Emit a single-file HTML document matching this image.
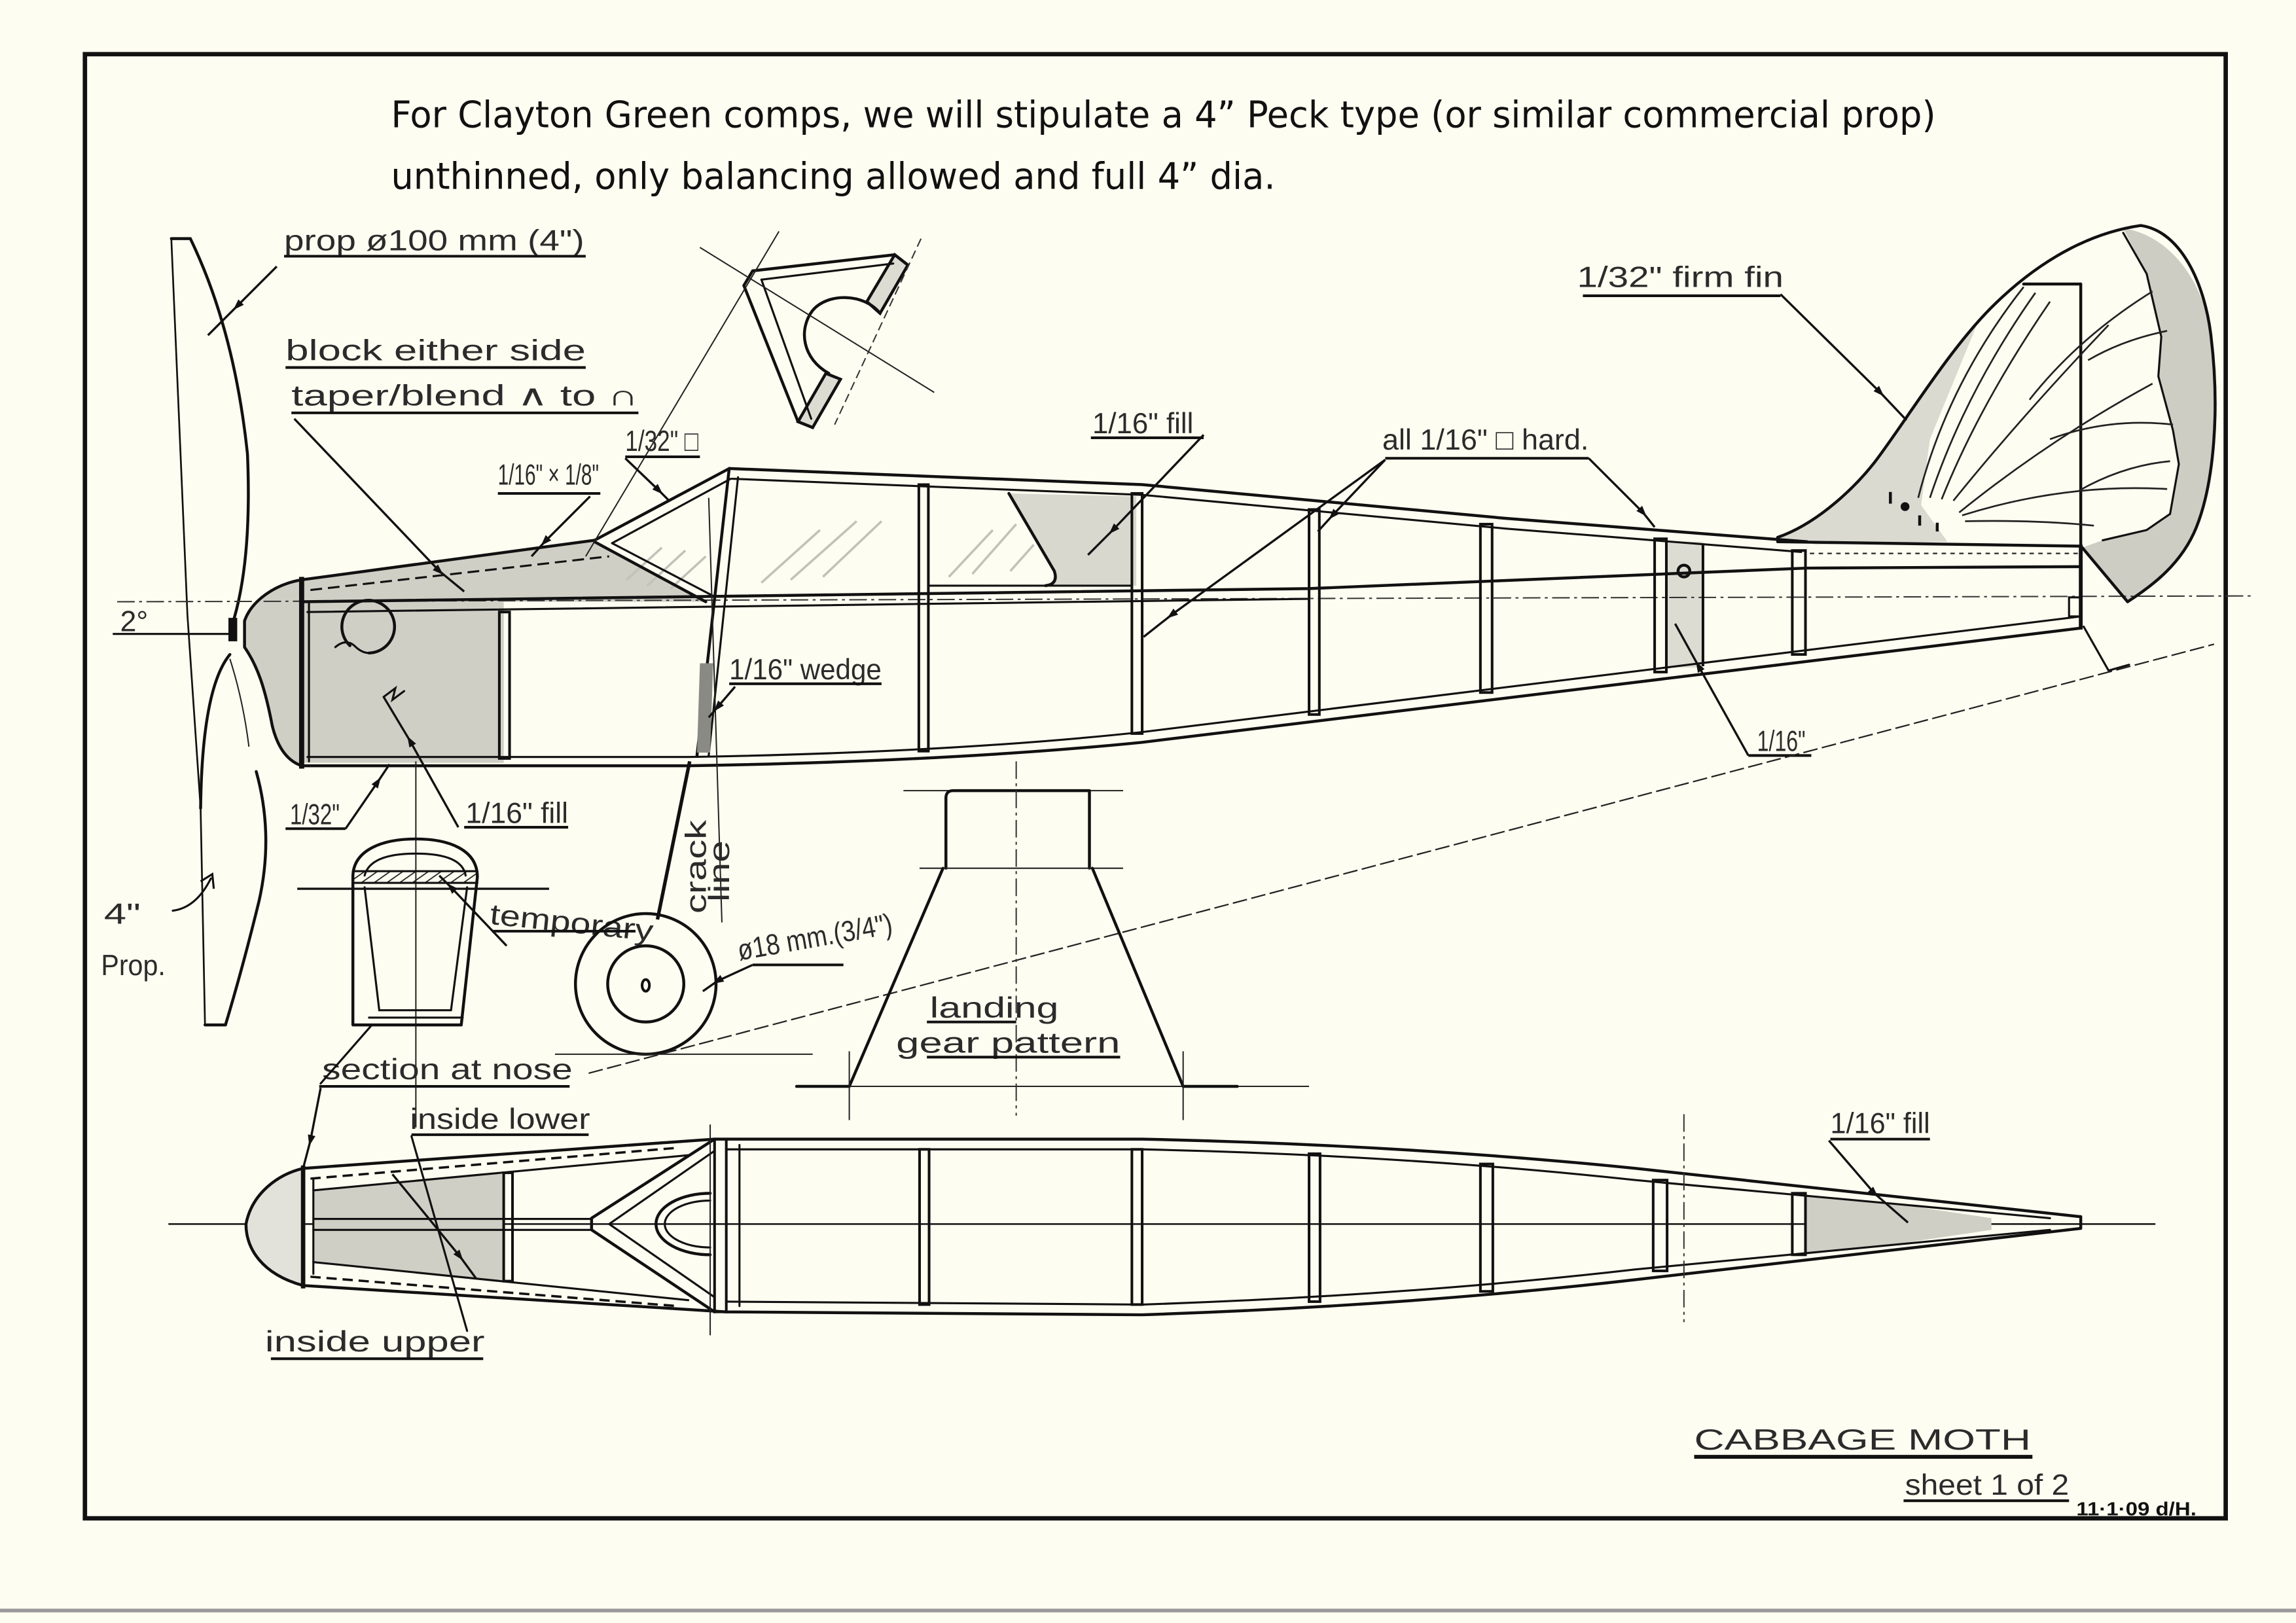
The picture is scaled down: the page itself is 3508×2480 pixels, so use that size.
<!DOCTYPE html>
<html><head><meta charset="utf-8"><title>Cabbage Moth - sheet 1 of 2</title>
<style>
html,body{margin:0;padding:0;background:#fdfdf1;width:3508px;height:2480px;overflow:hidden}
svg{display:block}
</style></head><body>
<svg xmlns="http://www.w3.org/2000/svg" width="3508" height="2480" viewBox="0 0 1568 1108.5" preserveAspectRatio="none">
<defs>
<style>
.k{fill:none;stroke:#111;stroke-width:2;stroke-linejoin:round;stroke-linecap:round}
.m{fill:none;stroke:#111;stroke-width:1.4;stroke-linecap:round}
.t{fill:none;stroke:#222;stroke-width:0.9}
.d{fill:none;stroke:#333;stroke-width:0.9;stroke-dasharray:12 3 2 3}
.g{fill:#cfcfc6;stroke:none}
.h{font-family:"Liberation Sans","DejaVu Sans",sans-serif;fill:#2b2b2b;font-size:20px}
.u{stroke:#111;stroke-width:1.8;fill:none}
.l{fill:none;stroke:#111;stroke-width:1.5;marker-mid:url(#a)}
.p{fill:none;stroke:#111;stroke-width:1.8}
</style>
<marker id="a" viewBox="0 0 10 10" refX="5" refY="5" markerWidth="5" markerHeight="5" orient="auto"><path d="M0,1.5 L10,5 L0,8.5 Z" fill="#111"/></marker>
<pattern id="hat" width="5" height="5" patternUnits="userSpaceOnUse" patternTransform="rotate(55)"><line x1="0" y1="0" x2="0" y2="5" stroke="#222" stroke-width="1.6"/></pattern>
</defs>
<rect width="1568" height="1108.5" fill="#fdfdf1"/>

<!-- border & scan line -->
<rect x="58" y="37" width="1462" height="1000" fill="none" stroke="#111" stroke-width="3"/>
<line x1="0" y1="1100" x2="1568" y2="1100" stroke="#9a9a9a" stroke-width="2.5"/>

<!-- top typed text -->
<text x="267" y="87" font-family="DejaVu Sans Condensed, DejaVu Sans, Liberation Sans, sans-serif" font-size="25" fill="#111" textLength="1055" lengthAdjust="spacingAndGlyphs">For Clayton Green comps, we will stipulate a 4” Peck type (or similar commercial prop)</text>
<text x="267" y="129" font-family="DejaVu Sans Condensed, DejaVu Sans, Liberation Sans, sans-serif" font-size="25" fill="#111" textLength="604" lengthAdjust="spacingAndGlyphs">unthinned, only balancing allowed and full 4” dia.</text>

<!-- ===== SHADED FILLS ===== -->
<path class="g" d="M206,396 L406,369 L482,411 L206,411 Z"/>
<path class="g" d="M206,396 C188,399 172,410 167,424 L167,442 C176,455 181,470 186,496 C190,512 197,520 206,523 Z"/>
<rect class="g" x="206" y="411" width="138" height="110"/>
<path d="M689,337 L776,339 L776,400 L716,400 Q722,394 718,388 Z" fill="#d8d8cf"/>
<rect x="1138" y="370" width="25" height="86" fill="#dcdcd3"/>
<path fill="#cdcdc4" d="M1450,156 C1480,160 1505,190 1510,230 C1516,280 1512,330 1500,360 C1490,385 1470,400 1453,411 L1422,374 L1436,369 L1466,362 L1482,351 L1488,317 L1484,294 L1474,257 L1476,230 L1466,187 Z"/>
<path fill="#dadad1" d="M1214,367 C1240,358 1265,335 1280,316 C1300,290 1330,240 1350,222 L1318,300 L1312,345 L1330,370 L1240,372 Z"/>
<!-- windscreen hatching -->
<g stroke="#c2c2b9" stroke-width="1.6" fill="none">
<line x1="428" y1="396" x2="452" y2="374"/><line x1="442" y1="400" x2="468" y2="376"/><line x1="458" y1="402" x2="482" y2="380"/>
<line x1="520" y1="398" x2="560" y2="362"/><line x1="540" y1="396" x2="585" y2="356"/><line x1="562" y1="394" x2="602" y2="356"/>
<line x1="648" y1="394" x2="678" y2="362"/><line x1="664" y1="392" x2="694" y2="358"/><line x1="690" y1="390" x2="706" y2="372"/>
</g>

<!-- ===== PROP ===== -->
<path class="k" d="M117,163 L130,163"/>
<path fill="none" stroke="#111" stroke-width="1.2" d="M117,163 L128,420 L137,552 L140,700"/>
<path class="k" d="M130,163 Q160,225 169,310 Q172,380 160,422"/>
<path class="k" d="M157,447 Q138,470 137,552"/>
<path class="t" d="M157,450 Q166,478 170,510"/>
<path class="k" d="M175,527 Q187,570 177,615 Q166,660 154,700 L140,700"/>
<rect x="156" y="422" width="6" height="16" fill="#111"/>
<polyline class="l" points="189,182 162,209 142,229"/>
<text class="h" x="194" y="171" textLength="205" lengthAdjust="spacingAndGlyphs">prop ø100 mm (4")</text>
<line class="u" x1="194" y1="175" x2="400" y2="175"/>
<!-- 4" prop -->
<text class="h" x="71" y="631" font-size="21" textLength="25" lengthAdjust="spacingAndGlyphs">4"</text>
<text class="h" x="69" y="666" font-size="21" textLength="44" lengthAdjust="spacingAndGlyphs">Prop.</text>
<path class="m" d="M118,622 Q134,620 144,600"/>
<path d="M137,602 L145,597 L146,607" fill="none" stroke="#111" stroke-width="1.4"/>

<!-- datum / thrust -->
<line class="d" x1="80" y1="411" x2="1540" y2="407"/>
<line x1="77" y1="433" x2="160" y2="433" stroke="#111" stroke-width="1.4"/>
<text class="h" x="82" y="431" font-size="17">2°</text>

<!-- ===== SIDE VIEW FUSELAGE ===== -->
<path class="k" d="M206,396 C188,399 172,410 167,424 L167,442 C176,455 181,470 186,496 C190,512 197,520 206,523"/>
<line x1="206" y1="394" x2="206" y2="525" stroke="#111" stroke-width="3.5"/>
<line class="m" x1="211" y1="411" x2="211" y2="520"/>
<path class="k" d="M206,396 L406,369 L498,320"/>
<line class="m" x1="418" y1="371" x2="499" y2="327"/>
<line class="k" x1="406" y1="370" x2="482" y2="411"/>
<line class="m" x1="418" y1="371" x2="487" y2="407"/>
<line x1="212" y1="403" x2="416" y2="380" stroke="#111" stroke-width="1.4" stroke-dasharray="8 4"/>
<path class="k" d="M239,441 A18,18 0 1 1 252,446"/>
<path class="m" d="M229,442 Q236,436 242,441 Q247,446 252,446"/>
<path class="k" d="M498,320 L780,331 L1028,354 L1234,370"/>
<path class="m" d="M500,327 L780,338 L1028,361 L1230,377"/>
<path class="k" d="M206,411 L894,402 L1234,388 L1421,387"/>
<path class="m" d="M210,418 L894,409"/>
<path class="k" d="M206,523 L470,523 Q650,520 780,507 L1421,429"/>
<path class="m" d="M210,517 L470,517 Q650,514 780,500 L1421,421"/>
<line class="k" x1="1214" y1="370" x2="1421" y2="373"/>
<line x1="1236" y1="378" x2="1420" y2="378" stroke="#333" stroke-width="1.1" stroke-dasharray="3 3"/>
<line x1="1421" y1="372" x2="1421" y2="430" stroke="#111" stroke-width="2.6"/>
<rect class="m" x="1413" y="408" width="8" height="13"/>
<path class="m" d="M1423,428 L1440,458 L1454,454"/>
<line class="k" x1="498" y1="320" x2="476" y2="516"/>
<line class="m" x1="504" y1="326" x2="484" y2="516"/>
<path d="M478,453 L487,453 L485,514 L476,514 Z" fill="#8a8a84"/>
<line x1="471" y1="520" x2="449" y2="628" stroke="#111" stroke-width="2.4"/>
<line class="t" x1="484" y1="340" x2="493" y2="630"/>
<rect class="p" x="341" y="418" width="7" height="100"/>
<rect class="p" x="627.5" y="331" width="6.5" height="182"/>
<rect class="p" x="773" y="337" width="7" height="164"/>
<rect class="p" x="894" y="348" width="7" height="140"/>
<rect class="p" x="1011" y="358" width="8" height="115"/>
<rect class="p" x="1130" y="368" width="8" height="91"/>
<line class="p" x1="1163" y1="371" x2="1163" y2="455"/>
<circle cx="1150" cy="390" r="4" fill="none" stroke="#111" stroke-width="2"/>
<rect class="p" x="1224" y="376" width="9" height="71"/>
<path class="k" d="M689,337 L720,390 Q723,399 714,400"/>
<line class="m" x1="634" y1="400" x2="773" y2="400"/>

<!-- ===== FIN ===== -->
<path class="k" d="M1214,367 C1240,358 1265,335 1280,316 C1300,290 1330,240 1360,210 C1385,185 1420,160 1462,154 C1490,158 1506,195 1510,230 C1516,280 1512,330 1500,360 C1490,385 1470,400 1453,411 L1422,374"/>
<line class="k" x1="1421" y1="194" x2="1421" y2="374"/>
<line class="k" x1="1382" y1="194" x2="1421" y2="194"/>
<path class="m" d="M1450,159 L1466,187 L1476,230 L1474,257 L1484,294 L1488,317 L1482,351 L1466,362 L1436,369"/>
<g fill="none" stroke="#222" stroke-width="1.2">
<path d="M1310,340 Q1330,262 1382,196"/>
<path d="M1318,340 Q1342,268 1390,200"/>
<path d="M1326,341 Q1352,276 1400,206"/>
<path d="M1334,342 Q1380,285 1440,222"/>
<path d="M1338,350 Q1400,300 1470,262"/>
<path d="M1340,352 Q1410,330 1480,334"/>
<path d="M1342,356 Q1390,355 1430,359"/>
<path d="M1386,273 Q1420,230 1470,199"/>
<path d="M1400,300 Q1440,285 1484,290"/>
<path d="M1426,246 Q1450,232 1480,226"/>
<path d="M1420,335 Q1450,318 1482,315"/>
</g>
<g fill="#111"><circle cx="1301" cy="346" r="3"/><rect x="1310" y="352" width="2" height="7"/><rect x="1290" y="336" width="2" height="8"/><rect x="1322" y="357" width="2" height="6"/></g>

<!-- ===== GUSSET DETAIL ===== -->
<path d="M611,174 L620,181 L601,214 L592,206 Z" fill="#dcdcd3" stroke="#111" stroke-width="2"/>
<path d="M564,255 L574,259 L555,292 L545,288 Z" fill="#dcdcd3" stroke="#111" stroke-width="2"/>
<path class="k" d="M514,185 L611,174 L620,181"/>
<line class="m" x1="520" y1="191" x2="610" y2="180"/>
<path class="k" d="M514,185 L508,195 L545,288 L555,292"/>
<line class="m" x1="520" y1="191" x2="554" y2="286"/>
<path class="k" d="M601,214 C590,200 565,200 555,212 C545,225 548,245 566,255"/>
<line class="t" x1="478" y1="169" x2="638" y2="268"/>
<line class="t" x1="532" y1="158" x2="400" y2="380"/>
<line x1="629" y1="163" x2="570" y2="290" stroke="#333" stroke-width="0.9" stroke-dasharray="6 3"/>

<!-- ===== SIDE VIEW LABELS ===== -->
<text class="h" x="195" y="246" textLength="205" lengthAdjust="spacingAndGlyphs">block either side</text>
<line class="u" x1="195" y1="251" x2="400" y2="251"/>
<text class="h" x="199" y="277" textLength="237" lengthAdjust="spacingAndGlyphs">taper/blend ∧ to ∩</text>
<line class="u" x1="199" y1="282" x2="436" y2="282"/>
<polyline class="l" points="201,286 300,390 317,404"/>
<text class="h" x="427" y="308" font-size="17" textLength="50" lengthAdjust="spacingAndGlyphs">1/32" □</text>
<line class="u" x1="427" y1="312" x2="478" y2="312"/>
<polyline class="l" points="427,313 450,335 457,342"/>
<text class="h" x="340" y="331" font-size="18" textLength="69" lengthAdjust="spacingAndGlyphs">1/16" × 1/8"</text>
<line class="u" x1="340" y1="337" x2="410" y2="337"/>
<polyline class="l" points="403,339 372,370 363,380"/>
<text class="h" x="746" y="296" textLength="69" lengthAdjust="spacingAndGlyphs">1/16" fill</text>
<line class="u" x1="745" y1="299" x2="822" y2="299"/>
<polyline class="l" points="822,297 760,362 743,379"/>
<text class="h" x="944" y="307" textLength="141" lengthAdjust="spacingAndGlyphs">all 1/16" □ hard.</text>
<line class="u" x1="946" y1="313" x2="1085" y2="313"/>
<polyline class="l" points="946,314 910,352 900,363"/>
<polyline class="l" points="946,314 800,420 781,435"/>
<polyline class="l" points="1085,313 1122,350 1130,360"/>
<text class="h" x="1077" y="196" textLength="141" lengthAdjust="spacingAndGlyphs">1/32" firm fin</text>
<line class="u" x1="1081" y1="202" x2="1216" y2="202"/>
<polyline class="l" points="1216,201 1284,268 1302,287"/>
<text class="h" x="498" y="464" textLength="104" lengthAdjust="spacingAndGlyphs">1/16" wedge</text>
<line class="u" x1="498" y1="467" x2="602" y2="467"/>
<polyline class="l" points="502,469 490,483 484,490"/>
<text class="h" x="1200" y="513" textLength="33" lengthAdjust="spacingAndGlyphs">1/16"</text>
<line class="u" x1="1194" y1="516" x2="1237" y2="516"/>
<polyline class="l" points="1194,516 1160,455 1144,426"/>
<text class="h" x="198" y="563" textLength="34" lengthAdjust="spacingAndGlyphs">1/32"</text>
<line class="u" x1="195" y1="566" x2="236" y2="566"/>
<polyline class="l" points="236,566 258,534 266,522"/>
<text class="h" x="318" y="562" textLength="70" lengthAdjust="spacingAndGlyphs">1/16" fill</text>
<line class="u" x1="317" y1="565" x2="388" y2="565"/>
<polyline class="l" points="313,565 280,506 262,476"/>
<path class="m" d="M262,476 L270,470 L268,478 L276,472"/>

<!-- ===== NOSE SECTION ===== -->
<line class="t" x1="284" y1="520" x2="284" y2="770"/>
<rect x="241" y="595" width="85" height="8" fill="url(#hat)"/>
<path class="k" d="M241,700 L241,599 C241,580 262,573 284,573 C306,573 326,580 326,599 L315,700 Z"/>
<path class="m" d="M249,598 C252,586 268,583 284,583 C300,583 316,586 318,598"/>
<line class="m" x1="241" y1="595" x2="326" y2="595"/>
<line class="m" x1="241" y1="603" x2="326" y2="603"/>
<path class="m" d="M249,606 L259,690 L308,690 L319,606"/>
<line class="m" x1="252" y1="695" x2="316" y2="695"/>
<line x1="203" y1="607" x2="375" y2="607" stroke="#111" stroke-width="1.5"/>
<text class="h" x="334" y="631" textLength="112" lengthAdjust="spacingAndGlyphs" transform="rotate(6 334 631)">temporary</text>
<line class="u" x1="336" y1="636" x2="434" y2="636"/>
<polyline class="l" points="346,646 308,606 300,598"/>
<text class="h" x="220" y="737" textLength="171" lengthAdjust="spacingAndGlyphs">section at nose</text>
<line class="u" x1="218" y1="742" x2="389" y2="742"/>
<line class="m" x1="254" y1="700" x2="219" y2="740"/>
<polyline class="l" points="219,743 212,779 207,798"/>

<!-- crack line -->
<text class="h" x="0" y="0" font-size="21" textLength="64" lengthAdjust="spacingAndGlyphs" transform="translate(482 624) rotate(-90)">crack</text>
<text class="h" x="0" y="0" font-size="20" textLength="42" lengthAdjust="spacingAndGlyphs" transform="translate(498 616) rotate(-90)">line</text>

<!-- ===== WHEEL ===== -->
<circle cx="441" cy="672" r="48" fill="none" stroke="#111" stroke-width="2"/>
<circle cx="441" cy="672" r="26" fill="none" stroke="#111" stroke-width="2"/>
<ellipse cx="441" cy="673" rx="2.5" ry="4" fill="none" stroke="#111" stroke-width="1.8"/>
<text class="h" x="505" y="656" font-size="18" textLength="107" lengthAdjust="spacingAndGlyphs" transform="rotate(-10 505 656)">ø18 mm.(3/4")</text>
<line class="u" x1="514" y1="659" x2="576" y2="659"/>
<polyline class="l" points="514,659 490,670 480,677"/>
<line class="t" x1="379" y1="720" x2="555" y2="720"/>
<line x1="402" y1="733" x2="1512" y2="440" stroke="#222" stroke-width="1" stroke-dasharray="10 3"/>

<!-- ===== LANDING GEAR PATTERN ===== -->
<line class="t" x1="617" y1="540" x2="767" y2="540"/>
<path class="k" d="M646,593 L646,545 Q646,540 651,540 L744,540 L744,593"/>
<line class="t" x1="628" y1="593" x2="767" y2="593"/>
<line class="k" x1="644" y1="593" x2="580" y2="742"/>
<line class="k" x1="746" y1="593" x2="808" y2="742"/>
<line class="t" x1="544" y1="742" x2="894" y2="742"/>
<line class="k" x1="544" y1="742" x2="580" y2="742"/>
<line class="k" x1="808" y1="742" x2="845" y2="742"/>
<line class="d" x1="694" y1="520" x2="694" y2="762"/>
<line class="t" x1="580" y1="718" x2="580" y2="765"/>
<line class="t" x1="808" y1="718" x2="808" y2="765"/>
<text class="h" x="635" y="695" textLength="88" lengthAdjust="spacingAndGlyphs">landing</text>
<line class="u" x1="633" y1="698" x2="694" y2="698"/>
<text class="h" x="612" y="719" textLength="153" lengthAdjust="spacingAndGlyphs">gear pattern</text>
<line class="u" x1="633" y1="722" x2="765" y2="722"/>

<!-- ===== PLAN VIEW ===== -->
<line x1="115" y1="836" x2="1472" y2="836" stroke="#111" stroke-width="1.1"/>
<path d="M207,798 C190,802 172,815 168,836 C168,852 178,870 207,878 Z" fill="#e2e2da"/>
<path class="g" d="M214,813 L344,801 L344,875 L214,862 Z"/>
<path class="g" d="M1233,816 L1300,823 L1360,832 L1360,840 L1300,849 L1233,857 Z"/>
<path class="k" d="M207,798 C190,802 172,815 168,836 C168,852 178,870 207,878"/>
<line x1="207" y1="796" x2="207" y2="880" stroke="#111" stroke-width="3"/>
<line class="m" x1="214" y1="805" x2="214" y2="870"/>
<path class="k" d="M207,798 L488,778 L780,778 Q960,782 1117,798 L1421,831 L1421,839 L1117,874 Q960,892 780,898 L496,896 L207,878"/>
<path class="m" d="M214,813 L470,789"/>
<path class="m" d="M214,862 L470,888"/>
<path class="m" d="M496,785 L780,785 Q960,789 1117,806 L1400,832"/>
<path class="m" d="M496,889 L780,891 Q960,885 1117,867 L1400,840"/>
<line x1="212" y1="805" x2="462" y2="784" stroke="#111" stroke-width="1.6" stroke-dasharray="7 4"/>
<line x1="212" y1="872" x2="462" y2="892" stroke="#111" stroke-width="1.6" stroke-dasharray="7 4"/>
<line class="m" x1="214" y1="832.5" x2="404" y2="832.5"/>
<line class="m" x1="214" y1="840" x2="404" y2="840"/>
<path class="k" d="M488,778 L404,832 L404,840 L488,896"/>
<path class="m" d="M488,786 L416,836 L488,886"/>
<rect class="p" x="488" y="778" width="8" height="118"/>
<line class="m" x1="505" y1="782" x2="505" y2="892"/>
<path class="k" d="M485,815 A37,21 0 0 0 485,857"/>
<path class="m" d="M485,820 A31,16 0 0 0 485,852"/>
<line class="t" x1="485" y1="768" x2="485" y2="912"/>
<rect class="p" x="344" y="801" width="6" height="74"/>
<rect class="p" x="628" y="785" width="6.5" height="106"/>
<rect class="p" x="773" y="785" width="7" height="106"/>
<rect class="p" x="894" y="788" width="7.5" height="101"/>
<rect class="p" x="1011" y="795" width="8.5" height="87"/>
<rect class="p" x="1129" y="806" width="9.5" height="62"/>
<rect class="p" x="1224" y="815" width="9" height="42"/>
<line class="d" x1="1150" y1="761" x2="1150" y2="903"/>
<text class="h" x="280" y="771" textLength="123" lengthAdjust="spacingAndGlyphs">inside lower</text>
<line class="u" x1="281" y1="775" x2="402" y2="775"/>
<line class="m" x1="281" y1="776" x2="319" y2="909"/>
<polyline class="l" points="268,802 314,858 325,873"/>
<text class="h" x="181" y="923" textLength="150" lengthAdjust="spacingAndGlyphs">inside upper</text>
<line class="u" x1="185" y1="928" x2="330" y2="928"/>
<text class="h" x="1250" y="774" textLength="68" lengthAdjust="spacingAndGlyphs">1/16" fill</text>
<line class="u" x1="1250" y1="778" x2="1318" y2="778"/>
<polyline class="l" points="1249,779 1280,815 1303,835"/>

<!-- ===== TITLE BLOCK ===== -->
<text class="h" x="1157" y="990" font-size="26" textLength="230" lengthAdjust="spacingAndGlyphs">CABBAGE MOTH</text>
<line x1="1157" y1="995" x2="1388" y2="995" stroke="#111" stroke-width="2.6"/>
<text class="h" x="1301" y="1021" textLength="112" lengthAdjust="spacingAndGlyphs">sheet 1 of 2</text>
<line class="u" x1="1300" y1="1025" x2="1413" y2="1025"/>
<text x="1418" y="1035" font-family="Liberation Sans, sans-serif" font-size="13" font-weight="bold" fill="#111" textLength="82" lengthAdjust="spacingAndGlyphs">11·1·09 d/H.</text>
</svg>
</body></html>
